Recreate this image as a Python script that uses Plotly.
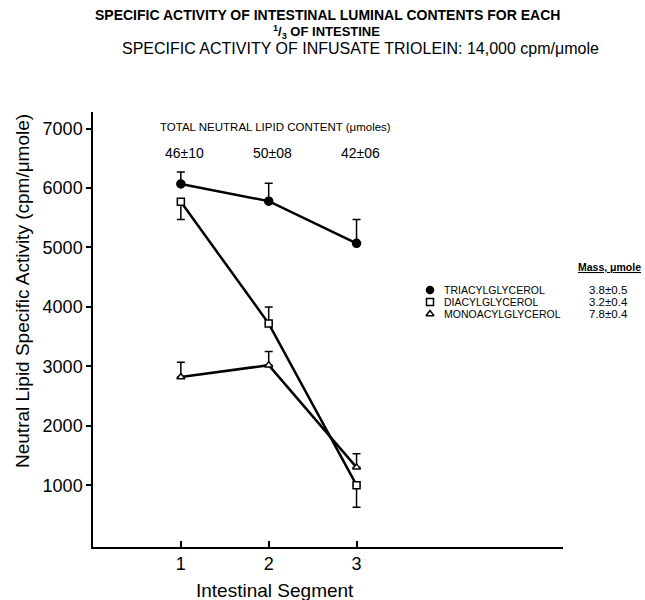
import plotly.graph_objects as go

# ---- data ----
segments = [1, 2, 3]
segment_labels = ["1", "2", "3"]

tri_values = [6070, 5780, 5070]
tri_err_plus = [200, 300, 400]
tri_err_minus = [0, 0, 0]

di_values = [5770, 3720, 1000]
di_err_plus = [0, 280, 0]
di_err_minus = [300, 0, 370]

mono_values = [2820, 3020, 1300]
mono_err_plus = [250, 230, 230]
mono_err_minus = [0, 0, 0]

total_lipid = ["46±10", "50±08", "42±06"]

series_names = ["TRIACYLGLYCEROL", "DIACYLGLYCEROL", "MONOACYLGLYCEROL"]
series_mass = ["3.8±0.5", "3.2±0.4", "7.8±0.4"]
series_symbols = ["circle", "square", "triangle-up"]
series_fill = ["black", "white", "white"]

y_ticks = [1000, 2000, 3000, 4000, 5000, 6000, 7000]

# ---- layout geometry (pixels) ----
W, H = 645, 600
L, R, T, B = 93, 82, 112, 53
pw, ph = W - L - R, H - T - B


def px(x):
    return (x - L) / pw


def py(y):
    return (H - B - y) / ph


SANS = "Liberation Sans, Arial, sans-serif"

fig = go.Figure()

for vals, ep, em, sym, fill in [
    (tri_values, tri_err_plus, tri_err_minus, series_symbols[0], series_fill[0]),
    (di_values, di_err_plus, di_err_minus, series_symbols[1], series_fill[1]),
    (mono_values, mono_err_plus, mono_err_minus, series_symbols[2], series_fill[2]),
]:
    fig.add_trace(go.Scatter(
        x=segments, y=vals, mode="lines+markers",
        line=dict(color="black", width=2.5),
        marker=dict(symbol=sym, size=8 if sym == "circle" else 7, color=fill,
                    line=dict(color="black", width=1.5)),
        error_y=dict(type="data", symmetric=False, array=ep, arrayminus=em,
                     color="black", thickness=1.5, width=4),
        showlegend=False, cliponaxis=False,
    ))

# legend keys drawn on an overlay axis (0..1 paper-like)
leg_rows_px = [290, 302, 314]
fig.add_trace(go.Scatter(
    x=[px(430)] * 3, y=[py(r) for r in leg_rows_px], mode="markers",
    marker=dict(symbol=series_symbols, size=7, color=series_fill,
                line=dict(color="black", width=1.5)),
    xaxis="x2", yaxis="y2", showlegend=False, cliponaxis=False,
))

annotations = []
for name, mass, r in zip(series_names, series_mass, leg_rows_px):
    annotations.append(dict(x=px(442), y=py(r), xref="paper", yref="paper",
                            text=name, showarrow=False, xanchor="left", yanchor="middle",
                            font=dict(family=SANS, size=10.5, color="black")))
    annotations.append(dict(x=px(587), y=py(r), xref="paper", yref="paper",
                            text=mass, showarrow=False, xanchor="left", yanchor="middle",
                            font=dict(family=SANS, size=11.5, color="black")))
annotations.append(dict(x=px(643), y=py(267), xref="paper", yref="paper",
                        text="<b><u>Mass, μmole</u></b>", showarrow=False,
                        xanchor="right", yanchor="middle",
                        font=dict(family=SANS, size=10.5, color="black")))

# total neutral lipid
annotations.append(dict(x=px(275), y=py(127), xref="paper", yref="paper",
                        text="TOTAL NEUTRAL LIPID CONTENT (μmoles)", showarrow=False,
                        xanchor="center", yanchor="middle",
                        font=dict(family=SANS, size=11.5, color="black")))
for s, t in zip(segments, total_lipid):
    annotations.append(dict(x=s, y=py(153), xref="x", yref="paper", xshift=4,
                            text=t, showarrow=False, xanchor="center", yanchor="middle",
                            font=dict(family=SANS, size=14, color="black")))

# titles
annotations.append(dict(x=px(327), y=py(15), xref="paper", yref="paper",
                        text="<b>SPECIFIC ACTIVITY OF INTESTINAL LUMINAL CONTENTS FOR EACH</b>",
                        showarrow=False, xanchor="center", yanchor="middle",
                        font=dict(family=SANS, size=14, color="black")))
annotations.append(dict(x=px(326), y=py(32), xref="paper", yref="paper",
                        text="<b><sup>1</sup>/<sub>3</sub> OF INTESTINE</b>",
                        showarrow=False, xanchor="center", yanchor="middle",
                        font=dict(family=SANS, size=13, color="black")))
annotations.append(dict(x=px(360), y=py(49), xref="paper", yref="paper",
                        text="SPECIFIC ACTIVITY OF INFUSATE TRIOLEIN: 14,000 cpm/μmole",
                        showarrow=False, xanchor="center", yanchor="middle",
                        font=dict(family=SANS, size=16, color="black")))

# axis titles
annotations.append(dict(x=px(22), y=py(291), xref="paper", yref="paper",
                        text="Neutral Lipid Specific Activity (cpm/μmole)", textangle=-90,
                        showarrow=False, xanchor="center", yanchor="middle",
                        font=dict(family=SANS, size=19, color="black")))
annotations.append(dict(x=px(275), y=py(590), xref="paper", yref="paper",
                        text="Intestinal Segment",
                        showarrow=False, xanchor="center", yanchor="middle",
                        font=dict(family=SANS, size=19, color="black")))

fig.update_layout(
    width=W, height=H,
    margin=dict(l=L, r=R, t=T, b=B, pad=0),
    paper_bgcolor="white", plot_bgcolor="white",
    showlegend=False,
    annotations=annotations,
    xaxis=dict(range=[0, 5.35], tickvals=segments, ticktext=segment_labels,
               showgrid=False, zeroline=False, showline=True, linecolor="black",
               linewidth=1.5, ticks="inside", ticklen=6, tickcolor="black",
               tickwidth=1.5, tickfont=dict(family=SANS, size=18, color="black")),
    yaxis=dict(range=[-40, 7280], tickvals=y_ticks,
               showgrid=False, zeroline=False, showline=True, linecolor="black",
               linewidth=1.5, ticks="outside", ticklen=5, tickcolor="black",
               tickwidth=1.5, tickfont=dict(family=SANS, size=18, color="black")),
    xaxis2=dict(range=[0, 1], overlaying="x", visible=False, anchor="y2"),
    yaxis2=dict(range=[0, 1], overlaying="y", visible=False, anchor="x2"),
)

fig.write_html("out.html")
